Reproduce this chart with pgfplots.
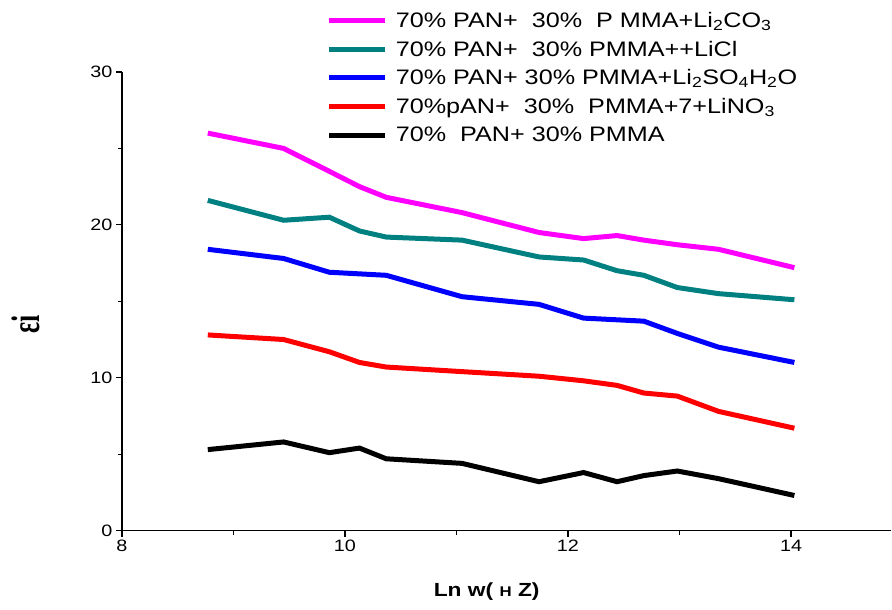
\documentclass[border=0pt]{standalone}
\usepackage{fontspec}
\setmainfont{Liberation Sans}[FakeStretch=1.2]
\newfontfamily\serif{Liberation Serif}[FakeStretch=0.65]
\usepackage{pgfplots}
\pgfplotsset{compat=1.18}
\definecolor{cmag}{RGB}{255,0,255}
\definecolor{cteal}{RGB}{0,128,128}
\definecolor{cblue}{RGB}{0,0,255}
\definecolor{cred}{RGB}{255,0,0}
\begin{document}
\begin{tikzpicture}
\begin{axis}[
  name=ax,
  scale only axis,
  width=770pt, height=459pt,
  xmin=8, xmax=14.9,
  ymin=0, ymax=30,
  axis x line=bottom, axis y line=left,
  axis line style={-, line width=1.2pt},
  xtick={8,10,12,14}, ytick={0,10,20,30},
  minor x tick num=1, minor y tick num=1,
  tick align=outside,
  major tick length=6pt, minor tick length=4pt,
  tick style={line width=1.2pt, black},
  /pgf/number format/assume math mode=true,
  ticklabel style={font=\fontsize{16.5}{20}\selectfont},
  xlabel={\textbf{Ln w( {\fontsize{14}{16}\selectfont H} Z)}},
  xlabel style={font=\fontsize{19}{22}\selectfont, at={(axis description cs:0.474,0)}, anchor=center, yshift=-61pt},
  ylabel={\serif\bfseries εi},
  ylabel style={font=\fontsize{40}{42}\selectfont, at={(axis description cs:-0.125,0.449)}, anchor=center},
  legend style={draw=none, fill=none, inner sep=0pt,
    at={(rel axis cs:0.266,1.135)}, anchor=north west,
    font=\fontsize{21}{24}\selectfont, row sep=8pt},
  legend cell align=left,
  legend image code/.code={\draw[#1, line width=5pt] (0pt,0pt) -- (56pt,0pt); \path (62pt,0pt);},
  every axis plot/.append style={line width=5pt},
]
\addplot[cmag] coordinates {(8.77,26.0) (9.45,25.0) (9.86,23.5) (10.13,22.5) (10.37,21.8) (11.05,20.8) (11.74,19.5) (12.14,19.1) (12.44,19.3) (12.68,19.0) (12.98,18.7) (13.35,18.4) (14.03,17.2)};
\addlegendentry{70\% PAN+\ \ 30\%\ \ P MMA+Li\textsubscript{2}CO\textsubscript{3}}
\addplot[cteal] coordinates {(8.77,21.6) (9.45,20.3) (9.86,20.5) (10.13,19.6) (10.37,19.2) (11.05,19.0) (11.74,17.9) (12.14,17.7) (12.44,17.0) (12.68,16.7) (12.98,15.9) (13.35,15.5) (14.03,15.1)};
\addlegendentry{70\% PAN+\ \ 30\% PMMA++LiCl}
\addplot[cblue] coordinates {(8.77,18.4) (9.45,17.8) (9.86,16.9) (10.37,16.7) (11.05,15.3) (11.74,14.8) (12.14,13.9) (12.68,13.7) (12.98,12.9) (13.35,12.0) (14.03,11.0)};
\addlegendentry{70\% PAN+ 30\% PMMA+Li\textsubscript{2}SO\textsubscript{4}H\textsubscript{2}O}
\addplot[cred] coordinates {(8.77,12.8) (9.45,12.5) (9.86,11.7) (10.13,11.0) (10.37,10.7) (11.05,10.4) (11.74,10.1) (12.14,9.8) (12.44,9.5) (12.68,9.0) (12.98,8.8) (13.35,7.8) (14.03,6.7)};
\addlegendentry{70\%pAN+\ \ 30\%\ \ PMMA+7+LiNO\textsubscript{3}\rule[-11pt]{0pt}{0pt}}
\addplot[black] coordinates {(8.77,5.3) (9.45,5.8) (9.86,5.1) (10.13,5.4) (10.37,4.7) (11.05,4.4) (11.74,3.2) (12.14,3.8) (12.44,3.2) (12.68,3.6) (12.98,3.9) (13.35,3.4) (14.03,2.3)};
\addlegendentry{70\%\ \ PAN+ 30\% PMMA}
\end{axis}
\path (ax.south west) ++(-122pt,-79pt);
\path (ax.north west) ++(0pt,72pt);
\end{tikzpicture}
\end{document}
